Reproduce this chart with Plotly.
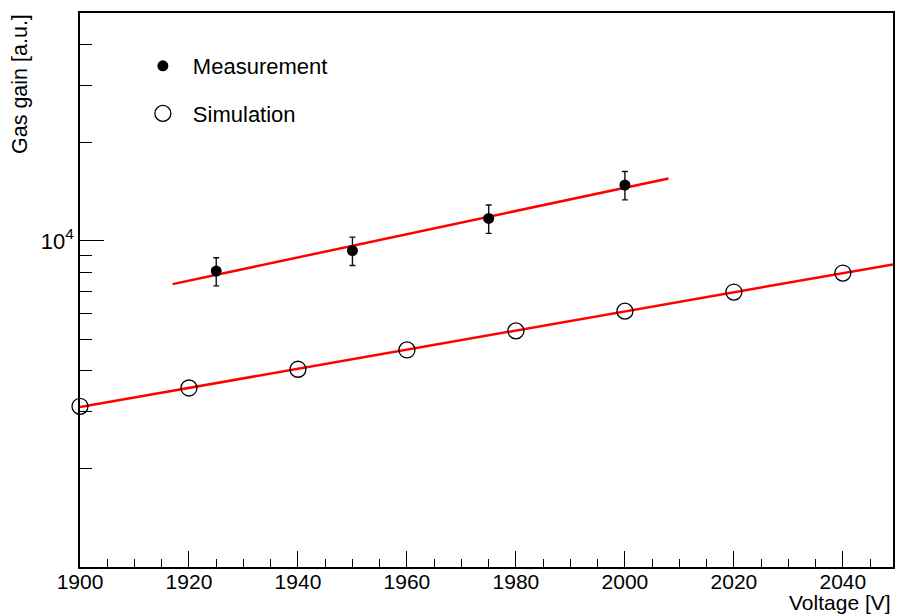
import numpy as np
import plotly.graph_objects as go

# ---- data ----
sim_x = [1900, 1920, 1940, 1960, 1980, 2000, 2020, 2040]
sim_y = [3110, 3540, 4040, 4630, 5300, 6090, 6970, 7970]

meas_x = [1925, 1950, 1975, 2000]
meas_y = [8080, 9340, 11720, 14840]
meas_err = [800, 930, 1170, 1480]

meas_fit_range = [1917, 2008]
sim_fit_range = [1900, 2049.2]

x_range = [1900, 2049.2]
y_range = [1000, 50000]

x_major = [1900, 1920, 1940, 1960, 1980, 2000, 2020, 2040]
x_minor = [v for v in range(1905, 2050, 5) if v % 20 != 0]
y_major = [1e4]
y_major_text = ["10<sup>4</sup>"]
y_minor = [2000, 3000, 4000, 5000, 6000, 7000, 8000, 9000, 20000, 30000, 40000]


def expfit(x, y, rng):
    p = np.polyfit(np.array(x, float), np.log10(np.array(y, float)), 1)
    xs = np.linspace(rng[0], rng[1], 50)
    return xs, 10 ** np.polyval(p, xs)


FONT = "Liberation Sans, Arial, Helvetica, sans-serif"

fig = go.Figure()

mx, my = expfit(meas_x, meas_y, meas_fit_range)
sx, sy = expfit(sim_x, sim_y, sim_fit_range)

fig.add_trace(go.Scatter(x=mx, y=my, mode="lines", line=dict(color="#ff0000", width=2.5),
                         showlegend=False, hoverinfo="skip"))
fig.add_trace(go.Scatter(x=sx, y=sy, mode="lines", line=dict(color="#ff0000", width=2.5),
                         showlegend=False, hoverinfo="skip"))

fig.add_trace(go.Scatter(
    x=meas_x, y=meas_y, mode="markers", name="Measurement", legendgroup="m",
    marker=dict(symbol="circle", size=11, color="black"),
    error_y=dict(type="data", array=meas_err, visible=True, color="#111111", thickness=1.4, width=3),
))
fig.add_trace(go.Scatter(
    x=sim_x, y=sim_y, mode="markers", name="Simulation", legendgroup="s",
    marker=dict(symbol="circle-open", size=16, color="black", line=dict(width=1.3)),
    cliponaxis=False,
))

fig.update_layout(
    width=899, height=616,
    margin=dict(l=80, r=4, t=13, b=49),
    paper_bgcolor="white", plot_bgcolor="white",
    font=dict(family=FONT, size=20, color="black"),
    showlegend=True,
    legend=dict(
        x=(133 - 80) / 815, y=(566.7 - 45) / 553.7, xanchor="left", yanchor="top",
        bgcolor="rgba(0,0,0,0)", borderwidth=0, font=dict(size=22, family=FONT),
        itemwidth=50, tracegroupgap=16, traceorder="grouped",
    ),
)

fig.update_xaxes(
    range=x_range, showgrid=False, zeroline=False,
    showline=True, linecolor="black", linewidth=1.5, mirror=True,
    ticks="inside", ticklen=16, tickwidth=1.2, tickcolor="black",
    tickvals=x_major, ticktext=[str(v) for v in x_major],
    tickfont=dict(size=21, family=FONT), ticklabelstandoff=-5,
    minor=dict(tickvals=x_minor, ticks="inside", ticklen=8, tickwidth=1.2, tickcolor="black", showgrid=False),
)
fig.update_yaxes(
    type="log", range=[np.log10(y_range[0]), np.log10(y_range[1])],
    showgrid=False, zeroline=False,
    showline=True, linecolor="black", linewidth=1.5, mirror=True,
    ticks="inside", ticklen=24, tickwidth=1.2, tickcolor="black",
    tickvals=y_major, ticktext=y_major_text,
    tickfont=dict(size=22, family=FONT),
    minor=dict(tickvals=y_minor, ticks="inside", ticklen=12, tickwidth=1.2, tickcolor="black", showgrid=False),
)

fig.add_annotation(text="Voltage [V]", xref="paper", yref="paper", x=1, y=0,
                   xanchor="right", yanchor="bottom", yshift=-49, showarrow=False,
                   font=dict(size=21, family=FONT))
fig.add_annotation(text="Gas gain [a.u.]", xref="paper", yref="paper", x=0, y=1,
                   xanchor="right", yanchor="top", xshift=-46, yshift=1, textangle=-90,
                   showarrow=False, font=dict(size=21.5, family=FONT))

fig.write_html("out.html")
